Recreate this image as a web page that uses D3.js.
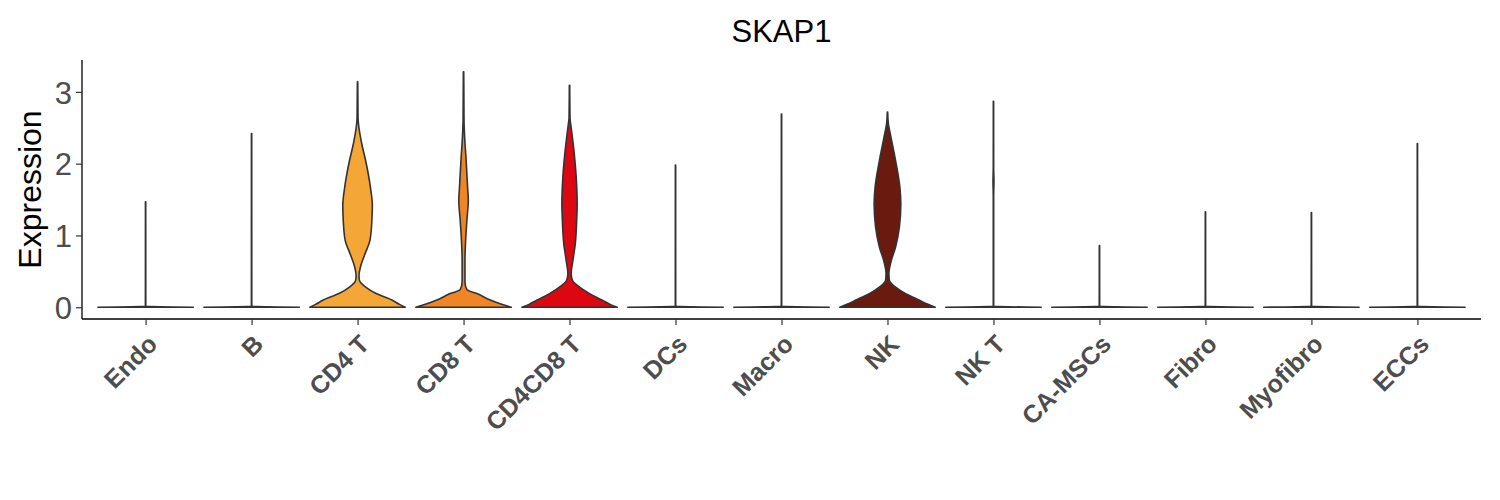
<!DOCTYPE html>
<html><head><meta charset="utf-8">
<script src="https://cdn.jsdelivr.net/npm/d3@7"></script>
<style>body{margin:0;background:#fff}svg{display:block}</style>
</head><body>
<svg id="c" width="1500" height="500"></svg>
<script>
const categories = ["Endo","B","CD4 T","CD8 T","CD4CD8 T","DCs","Macro","NK","NK T","CA-MSCs","Fibro","Myofibro","ECCs"];
const maxExpr = [1.47, 2.42, 3.14, 3.28, 3.09, 1.98, 2.69, 2.72, 2.87, 0.86, 1.33, 1.32, 2.28];
const fills = ["#E8E8E8","#E8E8E8","#F4A736","#EF8525","#DD0711","#E8E8E8","#E8E8E8","#6B1A0F","#E8E8E8","#E8E8E8","#E8E8E8","#E8E8E8","#E8E8E8"];
// density profiles: [expression value, relative half-width]
const profileCD4T = [[0,1],[0.04,0.88],[0.10,0.72],[0.19,0.39],[0.28,0.17],[0.375,0.04],[0.44,0.03],[0.56,0.06],[0.75,0.16],[0.93,0.26],[1.21,0.30],[1.42,0.31],[1.67,0.27],[2.04,0.17],[2.27,0.09],[2.64,0.01],[3.14,0.004]];
const profileCD8T = [[0,1],[0.04,0.8],[0.10,0.56],[0.19,0.28],[0.245,0.07],[0.35,0.03],[0.65,0.03],[0.88,0.04],[1.21,0.07],[1.49,0.10],[1.67,0.085],[2.04,0.055],[2.41,0.02],[2.6,0.01],[3.28,0.004]];
const profileCD4CD8T = [[0,1],[0.04,0.85],[0.10,0.68],[0.19,0.42],[0.28,0.21],[0.375,0.06],[0.47,0.035],[0.65,0.07],[0.88,0.12],[1.21,0.15],[1.44,0.16],[1.81,0.14],[2.13,0.10],[2.50,0.035],[2.64,0.01],[3.09,0.004]];
const profileNK = [[0,1],[0.04,0.85],[0.10,0.66],[0.19,0.38],[0.28,0.17],[0.375,0.04],[0.47,0.03],[0.65,0.08],[0.84,0.17],[1.12,0.25],[1.44,0.28],[1.67,0.26],[2.04,0.17],[2.41,0.06],[2.55,0.02],[2.72,0.004]];
const profileNKT = [[0,1],[0.012,0.004],[1.55,0.004],[1.75,0.01],[1.95,0.004],[2.87,0.003]];
function flatProfile(m){ return [[0,1],[0.012,0.004],[m,0.003]]; }
const profiles = categories.map((c,i)=>{
  if(c==="CD4 T") return profileCD4T;
  if(c==="CD8 T") return profileCD8T;
  if(c==="CD4CD8 T") return profileCD4CD8T;
  if(c==="NK") return profileNK;
  if(c==="NK T") return profileNKT;
  return flatProfile(maxExpr[i]);
});
const yTicks = [0,1,2,3];

const svg = d3.select("#c");
const L = 82, R = 1481, T = 60, B = 319;
const xp = d3.scalePoint().domain(categories).range([L,R]).padding(0.6);
const y = d3.scaleLinear().domain([-0.164, 3.444]).range([B,T]);
const halfMax = 0.45 * xp.step();

const g = svg.append("g");
categories.forEach((c,i)=>{
  const cx = xp(c);
  const pts = profiles[i].slice().reverse();
  const area = d3.area()
    .y(d=>y(d[0]))
    .x0(d=>cx - d[1]*halfMax)
    .x1(d=>cx + d[1]*halfMax)
    .curve(d3.curveMonotoneY);
  g.append("path").attr("d", area(pts))
    .attr("fill", fills[i]).attr("stroke","#333333").attr("stroke-width",1.6)
    .attr("stroke-linejoin","round");
});

// axes
const ya = svg.append("g").attr("transform",`translate(${L},0)`)
  .call(d3.axisLeft(y).tickValues(yTicks).tickSize(6).tickPadding(4).tickFormat(d3.format("d")));
ya.select(".domain").attr("d",`M0,${T}V${B}`).attr("stroke","#000").attr("stroke-width",1.3);
ya.selectAll(".tick line").attr("stroke","#333").attr("stroke-width",1.2);
ya.selectAll(".tick text").attr("font-family","Liberation Sans, Arial, sans-serif").attr("font-size",31).attr("fill","#4D4D4D").attr("dy","0.36em");

const xa = svg.append("g").attr("transform",`translate(0,${B})`)
  .call(d3.axisBottom(xp).tickSize(6).tickPadding(0));
xa.select(".domain").attr("d",`M${L},0H${R}`).attr("stroke","#000").attr("stroke-width",1.3);
xa.selectAll(".tick line").attr("stroke","#333").attr("stroke-width",1.2);
xa.selectAll(".tick text")
  .attr("font-family","Liberation Sans, Arial, sans-serif").attr("font-size",25).attr("font-weight","bold")
  .attr("fill","#4D4D4D").attr("text-anchor","end")
  .attr("transform","translate(0,14) rotate(-45)").attr("y",0).attr("dy","0.72em");

svg.append("text").attr("x",(L+R)/2).attr("y",42).attr("text-anchor","middle")
  .attr("font-family","Liberation Sans, Arial, sans-serif").attr("font-size",31).attr("fill","#000").text("SKAP1");
svg.append("text").attr("transform",`translate(41,${(T+B)/2}) rotate(-90)`).attr("text-anchor","middle")
  .attr("font-family","Liberation Sans, Arial, sans-serif").attr("font-size",32).attr("fill","#000").text("Expression");
</script>
</body></html>
